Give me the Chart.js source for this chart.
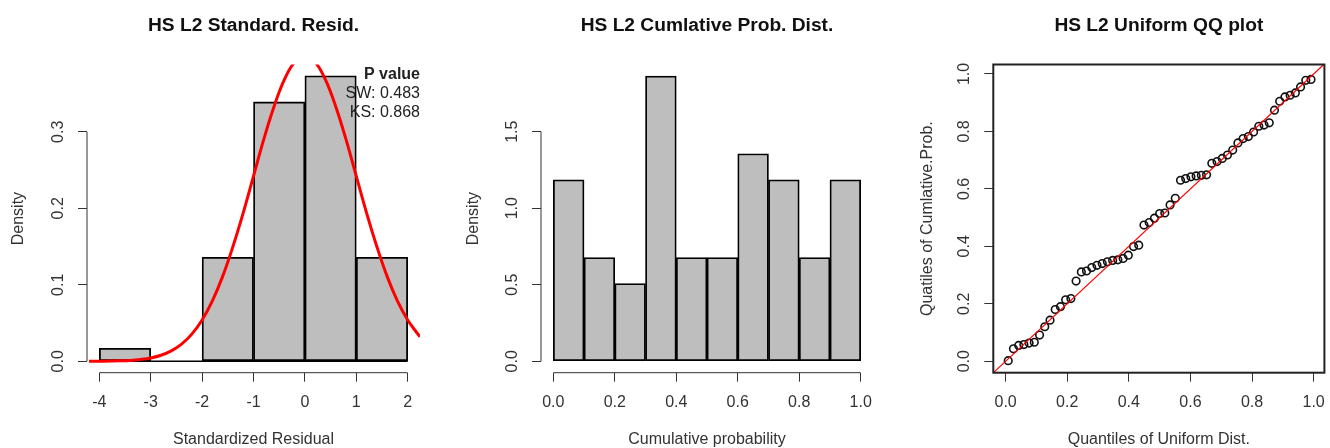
<!DOCTYPE html>
<html>
<head>
<meta charset="utf-8">
<script src="https://cdn.jsdelivr.net/npm/chart.js@4.4.1/dist/chart.umd.min.js"></script>
<style>
html, body { margin:0; padding:0; background:#fff; }
#wrap { position:relative; width:1330px; height:448px; overflow:hidden; }
.panel { position:absolute; top:0; }
</style>
</head>
<body>
<div id="wrap">
  <canvas id="c1" class="panel" width="443" height="448" style="left:0"></canvas>
  <canvas id="c2" class="panel" width="443" height="448" style="left:443px"></canvas>
  <canvas id="c3" class="panel" width="444" height="448" style="left:886px"></canvas>
</div>
<script>
// --- panel 1: standardized residuals histogram (density, bin width 1)
const residBins = [-3.5, -2.5, -1.5, -0.5, 0.5, 1.5];
const residDensity = [0.017, 0, 0.136, 0.339, 0.373, 0.136];
const residEdges = [-4, 2]; // outer bin edges, bottom line of the bars
const residTicksX = [-4, -3, -2, -1, 0, 1, 2];
const residTicksY = [0, 0.1, 0.2, 0.3];
// red density curve
const curveX = [-4.2, -4.0, -3.8, -3.6, -3.4, -3.2, -3.0, -2.8, -2.6, -2.4, -2.2, -2.0, -1.8, -1.6, -1.4, -1.2, -1.0, -0.8, -0.6, -0.4, -0.2, 0,
  0.2, 0.4, 0.6, 0.8, 1.0, 1.2, 1.4, 1.6, 1.8, 2.0, 2.2, 2.24];
const curveY = [0.0001, 0.0001, 0.0003, 0.0006, 0.0012, 0.0024, 0.0044, 0.0079, 0.0136, 0.0224, 0.0355, 0.054, 0.079, 0.111, 0.150, 0.194, 0.242, 0.290, 0.333, 0.368, 0.391, 0.399,
  0.391, 0.368, 0.333, 0.290, 0.242, 0.194, 0.150, 0.111, 0.079, 0.054, 0.0355, 0.032];
const pValueLines = ['P value', 'SW: 0.483', 'KS: 0.868'];

// --- panel 2: cumulative probability histogram (bin width 0.1)
const probBins = [0.05, 0.15, 0.25, 0.35, 0.45, 0.55, 0.65, 0.75, 0.85, 0.95];
const probDensity = [1.186, 0.678, 0.508, 1.864, 0.678, 0.678, 1.356, 1.186, 0.678, 1.186];
const probTicksX = [0, 0.2, 0.4, 0.6, 0.8, 1];
const probTicksY = [0, 0.5, 1, 1.5];

// --- panel 3: uniform QQ plot
const uniformQ = [0.0085, 0.0254, 0.0424, 0.0593, 0.0763, 0.0932, 0.1102, 0.1271, 0.1441, 0.1610,
  0.1780, 0.1949, 0.2119, 0.2288, 0.2458, 0.2627, 0.2797, 0.2966, 0.3136, 0.3305,
  0.3475, 0.3644, 0.3814, 0.3983, 0.4153, 0.4322, 0.4492, 0.4661, 0.4831, 0.5000,
  0.5169, 0.5339, 0.5508, 0.5678, 0.5847, 0.6017, 0.6186, 0.6356, 0.6525, 0.6695,
  0.6864, 0.7034, 0.7203, 0.7373, 0.7542, 0.7712, 0.7881, 0.8051, 0.8220, 0.8390,
  0.8559, 0.8729, 0.8898, 0.9068, 0.9237, 0.9407, 0.9576, 0.9746, 0.9915];
const cumProbQ = [0.002, 0.043, 0.055, 0.058, 0.063, 0.066, 0.091, 0.120, 0.143, 0.180,
  0.190, 0.214, 0.218, 0.279, 0.311, 0.314, 0.326, 0.334, 0.340, 0.346,
  0.351, 0.353, 0.358, 0.369, 0.399, 0.404, 0.474, 0.483, 0.498, 0.514,
  0.516, 0.544, 0.567, 0.630, 0.636, 0.642, 0.645, 0.647, 0.649, 0.689,
  0.695, 0.706, 0.718, 0.735, 0.760, 0.775, 0.782, 0.798, 0.818, 0.822,
  0.830, 0.874, 0.905, 0.920, 0.926, 0.934, 0.955, 0.978, 0.981];
const qqTicks = [0, 0.2, 0.4, 0.6, 0.8, 1];
const qqLine = [-0.04, 1.04]; // y = x reference line ends

const FONT = "'Liberation Sans', Arial, sans-serif";
const INK = '#333';
const TXT = '#333';
const BAR = '#bebebe';
Chart.defaults.font.family = FONT;
Chart.defaults.font.size = 16;

const fmt1 = v => v.toFixed(1);

function axis(o){
  const left = o.pos === 'left';
  return {
    type:'linear', position:o.pos, min:o.min, max:o.max, offset:false,
    border:{display:false},
    grid:{drawOnChartArea:false, drawTicks:true, tickLength:9, color:INK, lineWidth:1, offset:false},
    ticks: Object.assign({color:TXT, padding: left ? 8.3 : 13.3, font:{size:16, lineHeight:1}, callback:o.fmt, autoSkip:false},
      left ? {minRotation:90, maxRotation:90, crossAlign:'center'} : {minRotation:0, maxRotation:0}),
    title:{display:true, text:o.title, color:TXT, font:{size:16, lineHeight:1},
      padding: left ? {top:o.titlePad, bottom:0} : {top:0, bottom:0}},
    afterBuildTicks: s => { s.ticks = o.ticks.map(v => ({value:v})); },
    afterFit: s => {
      if(left) s.width = o.size; else s.height = o.size;
      s.paddingLeft = s.paddingRight = s.paddingTop = s.paddingBottom = 0;
    }
  };
}

function titleOpts(text){
  return {display:true, text, fullSize:false, color:'#111',
    font:{size:19.2, weight:'bold', lineHeight:1}, padding:{top:16.1, bottom:29.2}};
}

// R style axis lines: only from first to last tick
const rAxisLines = {
  id:'rAxisLines',
  afterDraw(chart){
    const ctx = chart.ctx, x = chart.scales.x, y = chart.scales.y;
    const xt = x.ticks, yt = y.ticks;
    ctx.save();
    ctx.strokeStyle = INK; ctx.lineWidth = 1;
    ctx.beginPath();
    ctx.moveTo(x.getPixelForValue(xt[0].value), x.top);
    ctx.lineTo(x.getPixelForValue(xt[xt.length-1].value), x.top);
    ctx.moveTo(y.right, y.getPixelForValue(yt[0].value));
    ctx.lineTo(y.right, y.getPixelForValue(yt[yt.length-1].value));
    ctx.stroke();
    ctx.restore();
  }
};

const boxPlot = {
  id:'boxPlot',
  afterDraw(chart){
    const {ctx, chartArea:a} = chart;
    ctx.save();
    ctx.strokeStyle = '#222'; ctx.lineWidth = 2;
    ctx.strokeRect(a.left, a.top, a.right - a.left, a.bottom - a.top);
    ctx.restore();
  }
};

const pValueNote = {
  id:'pValueNote',
  afterDatasetsDraw(chart){
    const {ctx, chartArea:a} = chart;
    ctx.save();
    ctx.textAlign = 'right'; ctx.textBaseline = 'middle'; ctx.fillStyle = '#222';
    pValueLines.forEach((t, i) => {
      ctx.font = (i === 0 ? 'bold ' : '') + '16px ' + FONT;
      ctx.fillText(t, a.right, a.top + 10.5 + i * 19);
    });
    ctx.restore();
  }
};

const common = {responsive:false, animation:false, events:[]};

new Chart(document.getElementById('c1'), {
  type:'bar',
  data:{datasets:[
    {type:'line', data:curveX.map((x, i) => ({x, y:curveY[i]})), borderColor:'#ff0000', borderWidth:3,
      pointRadius:0, tension:0.4, fill:false},
    {type:'bar', data:residBins.map((x, i) => ({x, y:residDensity[i]})), backgroundColor:BAR, borderColor:'#000',
      borderWidth:1.8, borderSkipped:false, barPercentage:1, categoryPercentage:1},
    {type:'line', data:residEdges.map(x => ({x, y:0})), borderColor:'#000', borderWidth:1.6, pointRadius:0, fill:false}
  ]},
  options:Object.assign({}, common, {
    layout:{padding:{left:0, right:23, top:0, bottom:0}},
    plugins:{legend:{display:false}, tooltip:{enabled:false}, title:titleOpts('HS L2 Standard. Resid.')},
    scales:{
      x:axis({pos:'bottom', min:-4.24, max:2.24, ticks:residTicksX, size:75.3, title:'Standardized Residual', fmt:v => String(v)}),
      y:axis({pos:'left', min:-0.0149, max:0.3879, ticks:residTicksY, size:87, title:'Density', titlePad:11, fmt:fmt1})
    }
  }),
  plugins:[rAxisLines, pValueNote]
});

new Chart(document.getElementById('c2'), {
  type:'bar',
  data:{datasets:[
    {data:probBins.map((x, i) => ({x, y:probDensity[i]})), backgroundColor:BAR, borderColor:'#000',
      borderWidth:1.8, borderSkipped:false, barPercentage:1, categoryPercentage:1}
  ]},
  options:Object.assign({}, common, {
    layout:{padding:{left:0, right:13, top:0, bottom:0}},
    plugins:{legend:{display:false}, tooltip:{enabled:false}, title:titleOpts('HS L2 Cumlative Prob. Dist.')},
    scales:{
      x:axis({pos:'bottom', min:-0.04, max:1.04, ticks:probTicksX, size:75.3, title:'Cumulative probability', fmt:fmt1}),
      y:axis({pos:'left', min:-0.0746, max:1.939, ticks:probTicksY, size:98, title:'Density', titlePad:22.7, fmt:fmt1})
    }
  }),
  plugins:[rAxisLines]
});

new Chart(document.getElementById('c3'), {
  type:'scatter',
  data:{datasets:[
    {data:qqLine.map(v => ({x:v, y:v})), showLine:true, borderColor:'#ff0000', borderWidth:1.2, pointRadius:0},
    {data:uniformQ.map((x, i) => ({x, y:cumProbQ[i]})), pointStyle:'circle', pointRadius:3.8, pointBorderWidth:1.6,
      pointBackgroundColor:'rgba(0,0,0,0)', pointBorderColor:'#111'}
  ]},
  options:Object.assign({}, common, {
    layout:{padding:{left:0, right:2.3, top:0, bottom:0}},
    plugins:{legend:{display:false}, tooltip:{enabled:false}, title:titleOpts('HS L2 Uniform QQ plot')},
    scales:{
      x:axis({pos:'bottom', min:-0.04, max:1.035, ticks:qqTicks, size:75.3, title:'Quantiles of Uniform Dist.', fmt:fmt1}),
      y:axis({pos:'left', min:-0.04, max:1.033, ticks:qqTicks, size:107.3, title:'Quatiles of Cumlative.Prob.', titlePad:33.7, fmt:fmt1})
    }
  }),
  plugins:[boxPlot]
});
</script>
</body>
</html>
